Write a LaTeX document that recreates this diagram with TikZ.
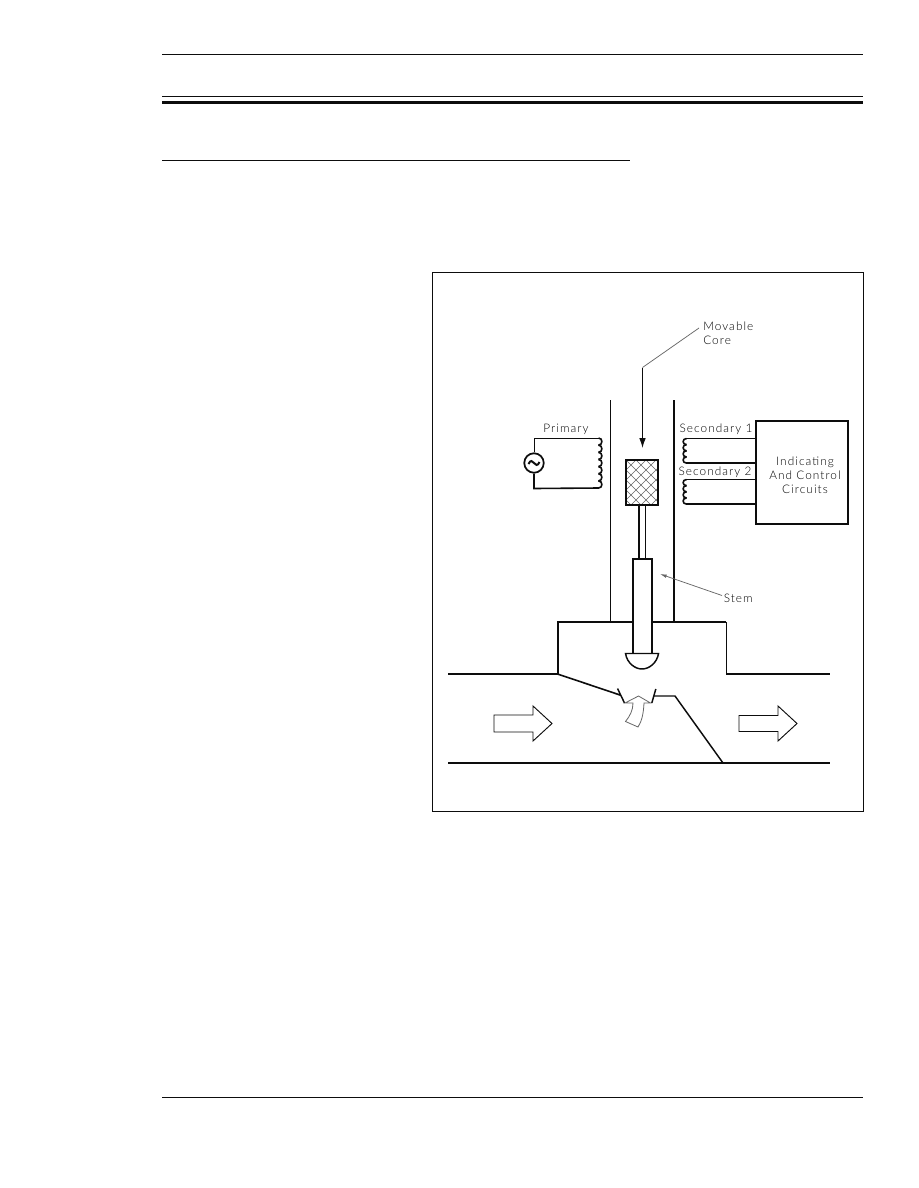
\documentclass[tikz,border=0pt]{standalone}
\usepackage{fontspec}
\setmainfont[LetterSpace=9]{Lato Light}
\usetikzlibrary{arrows.meta}
\definecolor{ink}{gray}{0.05}
\definecolor{soft}{gray}{0.4}
\tikzset{
  x=0.75pt,y=-0.75pt,
  thinl/.style={draw=ink,line width=0.75pt},
  thickl/.style={draw=ink,line width=1.5pt},
  hairl/.style={draw=soft,line width=0.55pt},
  lbl/.style={inner sep=0pt,font=\fontsize{8.85}{10.5}\selectfont,text=black,align=center},
  anchorpt/.style={coordinate}
}
\newcommand{\coilpath}[5]{% x, ytop, count, pitch, bulge
  \foreach \i in {1,...,#3}{
    \draw[thickl,line width=1.2pt] (#1,{#2+(\i-1)*#4}) .. controls ({#1+#5},{#2+(\i-1)*#4}) and ({#1+#5},{#2+\i*#4}) .. (#1,{#2+\i*#4});
  }
}
\begin{document}
\begin{tikzpicture}
\path[use as bounding box,fill=white] (0,0) rectangle (918,1188);
% page rules
\coordinate (r1a) at (162,54.5);  \coordinate (r1b) at (863,54.5);
\coordinate (r2a) at (162,96);  \coordinate (r2b) at (863,96);
\coordinate (r3a) at (162,102.5); \coordinate (r3b) at (863,102.5);
\coordinate (r4a) at (162,160); \coordinate (r4b) at (630,160);
\coordinate (r5a) at (162,1097); \coordinate (r5b) at (863,1097);
\draw[thinl] (r1a) -- (r1b);
\draw[thinl] (r2a) -- (r2b);
\draw[thickl,line width=1.6pt] (r3a) -- (r3b);
\draw[thinl] (r4a) -- (r4b);
\draw[thinl] (r5a) -- (r5b);
% frame
\draw[thinl] (432.5,272.5) rectangle (863.5,811.5);
% tube
\coordinate (tl1) at (610.5,400); \coordinate (tl2) at (610.5,622);
\coordinate (tr1) at (674,400);   \coordinate (tr2) at (674,622);
\draw[thinl] (tl1) -- (tl2);
\draw[thickl] (tr1) -- (tr2);
% core
\begin{scope}
\clip (626,460) rectangle (658,505);
\foreach \k in {-60,-50,...,130}{
  \draw[hairl,line width=0.5pt] (626+\k,460) -- (626+\k+60,520);
  \draw[hairl,line width=0.5pt] (626+\k+60,460) -- (626+\k,520);
}
\end{scope}
\node[draw=ink,line width=1.5pt,minimum width=24pt,minimum height=33.75pt,inner sep=0pt] (core) at (642,482.5) {};
% rod
\coordinate (ra1) at (638.8,505); \coordinate (ra2) at (638.8,559);
\coordinate (rb1) at (645.3,505); \coordinate (rb2) at (645.3,559);
\draw[thickl] (ra1) -- (ra2);
\draw[thinl] (rb1) -- (rb2);
% body
\coordinate (b1) at (557.5,674); \coordinate (b2) at (557.5,622);
\coordinate (b3) at (726,622);   \coordinate (b4) at (726,674);
\draw[thickl,line join=miter] (b1) -- (b2) -- (b3);
\draw[thinl] (b3) -- (b4);
% stem
\path[fill=white] (633,559) rectangle (652,653);
\draw[thickl] (633,653) -- (633,559) -- (652,559) -- (652,653);
% dome
\draw[draw=ink,line width=1.1pt,fill=white] (625.5,653.5) -- (658.5,653.5) .. controls (657,663) and (649,669) .. (642,669) .. controls (635,669) and (627,663) .. (625.5,653.5) -- cycle;
% pipe
\coordinate (pl0) at (448,674); \coordinate (pr0) at (830,674);
\draw[thinl,line width=0.9pt] (pl0) -- (b1);
\draw[thinl,line width=0.9pt] (b4) -- (pr0);
\coordinate (f1) at (448,763); \coordinate (f2) at (830,763);
\draw[thickl] (f1) -- (f2);
% seat
\coordinate (s1) at (620,695); \coordinate (s2) at (654,696);
\coordinate (s3) at (675,696); \coordinate (s4) at (723,763);
\draw[thickl,line width=1.2pt] (b1) -- (s1);
\draw[thickl,line width=1.1pt] (617.5,688.5) -- (624.5,703);
\draw[thickl,line width=1.1pt] (655.8,689) -- (651.8,703);
\draw[thickl,line width=1.1pt] (s2) -- (s3) -- (s4);
% flow arrows
\draw[thinl,line width=0.7pt,line join=miter] (552,723.5) -- (533,706) -- (533,715) -- (494,715) -- (494,732) -- (533,732) -- (533,741) -- cycle;
\draw[thinl,line width=0.7pt,line join=miter] (797,723.5) -- (778,706) -- (778,715.5) -- (739,715.5) -- (739,731.5) -- (778,731.5) -- (778,741) -- cycle;
\draw[hairl,line width=0.6pt,line join=miter] (638.5,696) -- (650.5,703) -- (644,703) .. controls (643.5,713) and (642,721) .. (638,727) -- (625.5,721.5) .. controls (630,716) and (633,710) .. (633,703) -- (625,703) -- cycle;
% primary
\node[circle,draw=ink,line width=1.3pt,minimum size=14.6pt,inner sep=0pt] (src) at (534,463) {};
\draw[draw=ink,line width=1.5pt] (528.5,464) .. controls (530.5,459.5) and (532.5,461) .. (534,463) .. controls (535.5,465) and (537.5,466.5) .. (539.5,462);
\coordinate (pc1) at (599,438); \coordinate (pc2) at (599,488);
\coordinate (ps1) at (534,438); \coordinate (ps2) at (534,488.5);
\draw[thinl] (src.north) -- (ps1) -- (pc1);
\draw[thickl,line width=1.2pt] (src.south) -- (ps2) -- (pc2);
\coilpath{598.5}{438}{7}{7.15}{4.5}
% indicating box
\node[draw=ink,line width=1.5pt,minimum width=69pt,minimum height=77.2pt,inner sep=0pt] (box) at (802,472.5) {};
\node[lbl] (boxtext) at (805,475) {Indicating\\And Control\\Circuits};
% secondary coils
\coordinate (c1a) at (686,438.5); \coordinate (c1b) at (686,463);
\coordinate (c2a) at (686,479.5); \coordinate (c2b) at (686,504);
\draw[thinl,line width=1pt] (c1a) -- (box.west |- c1a);
\draw[thickl] (c1b) -- (box.west |- c1b);
\draw[thinl,line width=1pt] (c2a) -- (box.west |- c2a);
\draw[thickl] (c2b) -- (box.west |- c2b);
\coilpath{686.5}{438.5}{4}{6.15}{-4.5}
\coilpath{686.5}{479.5}{4}{6.15}{-4.5}
% labels
\node[lbl] (lprim) at (566,429.5) {Primary};
\node[lbl] (lsec1) at (716,429.5) {Secondary 1};
\node[lbl] (lsec2) at (715,472) {Secondary 2};
\node[lbl,align=left,anchor=west] (lcore) at (703,333) {Movable\\Core};
\node[lbl,anchor=west] (lstem) at (723.5,598.5) {Stem};
% leaders
\coordinate (m1) at (699,328); \coordinate (m2) at (642.5,367.5);
\coordinate (mt) at (642.5,448);
\draw[hairl] (m1) -- (m2);
\draw[draw=ink,line width=0.8pt,-{Latex[length=7.5pt,width=5pt]}] (m2) -- (mt);
\coordinate (st1) at (722,595.5); \coordinate (st2) at (660,574);
\draw[hairl,-{Latex[length=5pt,width=2.6pt]}] (st1) -- (st2);
\end{tikzpicture}
\end{document}
